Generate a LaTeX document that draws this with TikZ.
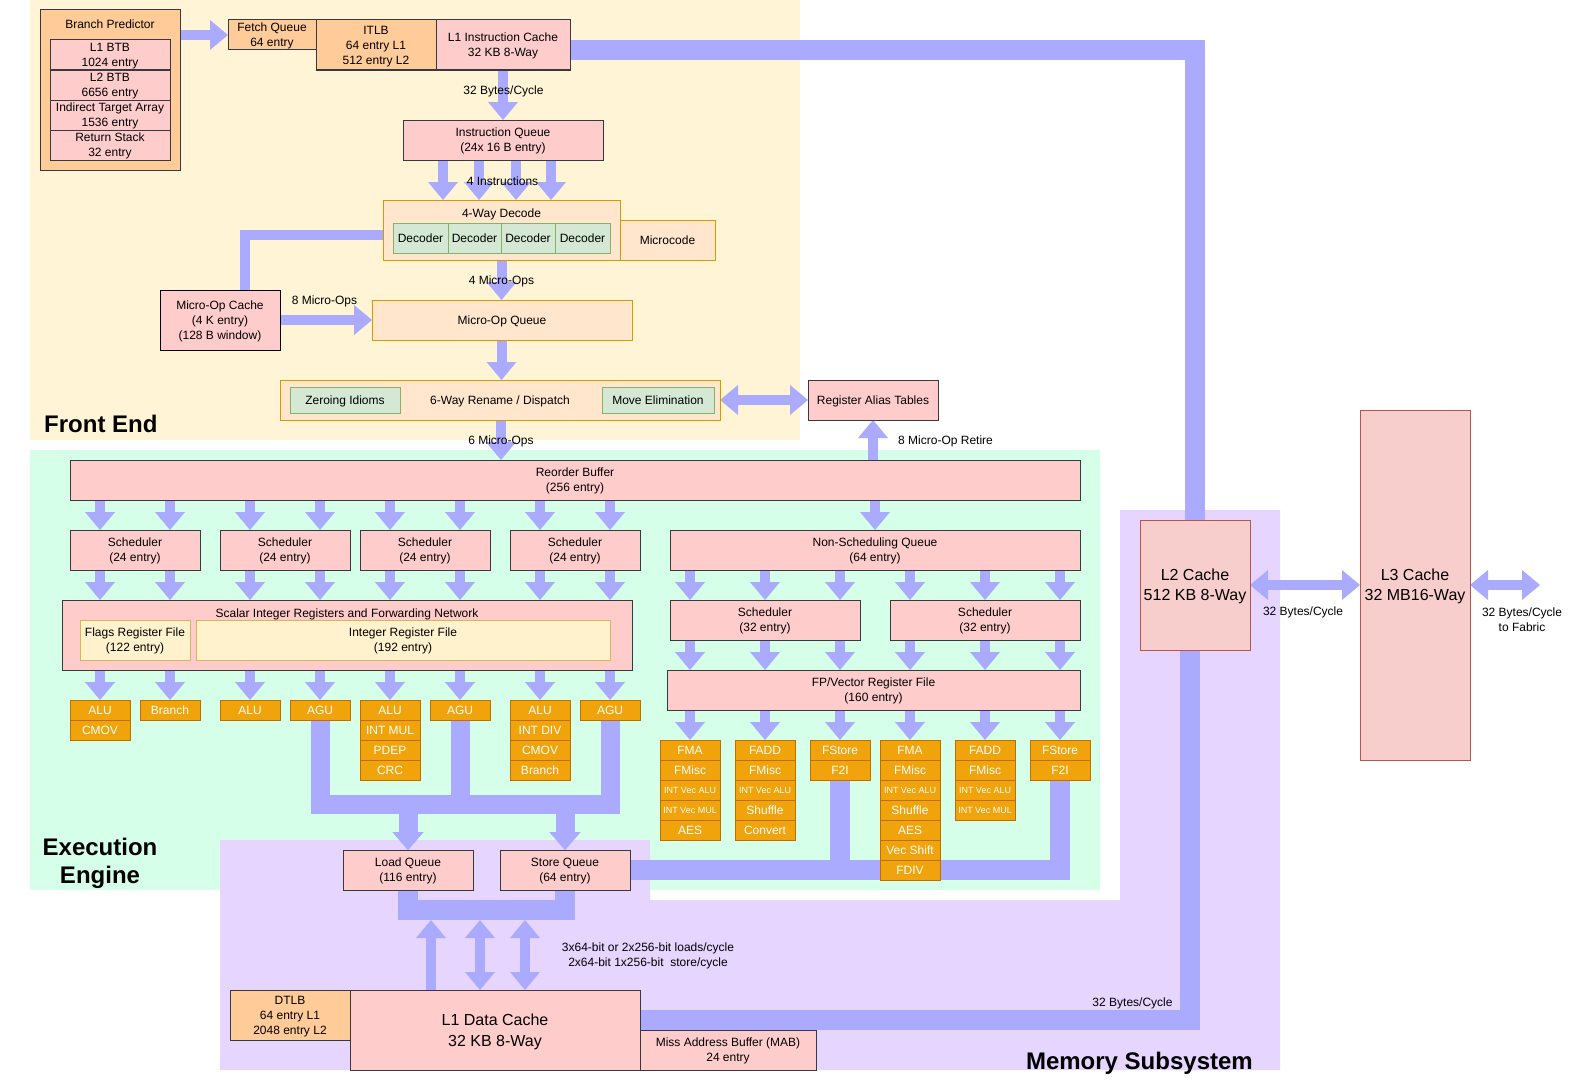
\documentclass[tikz,border=0pt]{standalone}
\usepackage{fontspec}
\setmainfont{Liberation Sans}
\usetikzlibrary{arrows.meta,calc}
\pgfdeclarelayer{regions}
\pgfdeclarelayer{links}
\pgfsetlayers{regions,links,main}
\definecolor{feY}{HTML}{FFF4D5}
\definecolor{eeG}{HTML}{D5FFE8}
\definecolor{msP}{HTML}{E5D5FF}
\definecolor{ablue}{HTML}{AAAAFF}
\definecolor{pinkc}{HTML}{FFCCCC}
\definecolor{peachc}{HTML}{FFCC99}
\definecolor{lpeach}{HTML}{FFE6CC}
\definecolor{dorange}{HTML}{D79B00}
\definecolor{dgreen}{HTML}{D5E8D4}
\definecolor{gstr}{HTML}{82B366}
\definecolor{lyel}{HTML}{FFF2CC}
\definecolor{ystr}{HTML}{D6B656}
\definecolor{unitF}{HTML}{F0A30A}
\definecolor{ustr}{HTML}{BD7000}
\definecolor{rpink}{HTML}{F8CECC}
\definecolor{rstr}{HTML}{B85450}
\definecolor{gstroke}{HTML}{36393D}
\tikzset{
 box/.style={draw=gstroke, fill=pinkc, line width=1pt, inner sep=0pt, outer sep=0pt, align=center, text depth=0pt, font=\fontsize{12}{15}\selectfont},
 pbox/.style={fill=lpeach, draw=dorange},
 gbox/.style={fill=dgreen, draw=gstr},
 ybox/.style={fill=lyel, draw=ystr},
 ubox/.style={fill=unitF, draw=ustr, text=white},
 sbox/.style={ubox, font=\fontsize{9}{11}\selectfont},
 rbox/.style={fill=rpink, draw=rstr, font=\fontsize{16}{20}\selectfont},
 lab/.style={font=\fontsize{12}{15}\selectfont, inner sep=0pt, align=center, text depth=0pt},
 reglab/.style={font=\fontsize{24}{28}\selectfont\bfseries, inner sep=0pt, align=center, text depth=0pt},
 farrow/.style={draw=ablue, line width=10pt, -{Triangle[width=30pt,length=18pt,line width=0pt]}},
 darrow/.style={draw=ablue, line width=10pt, {Triangle[width=30pt,length=18pt,line width=0pt]}-{Triangle[width=30pt,length=18pt,line width=0pt]}},
 aguarrow/.style={draw=ablue, line width=19pt, -{Triangle[width=31pt,length=18pt,line width=0pt]}},
 band/.style={draw=ablue, line width=20pt},
 thinband/.style={draw=ablue, line width=10pt},
}
\newcommand{\bx}[7][]{%
 \pgfmathsetmacro{\myW}{#5-#3}\pgfmathsetmacro{\myH}{#6-#4}%
 \pgfmathsetmacro{\myCX}{(#3+#5)/2}\pgfmathsetmacro{\myCY}{(#4+#6)/2}%
 \node[box,#1,minimum width=\myW pt,minimum height=\myH pt] (#2) at (\myCX,\myCY) {#7};}
\begin{document}
\begin{tikzpicture}[x=1pt,y=-1pt]
\useasboundingbox (0,0) rectangle (1576,1081);
\begin{pgfonlayer}{regions}
\fill[white] (0,0) rectangle (1576,1081);
\fill[feY] (30,0) rectangle (800,440);
\fill[eeG] (30,450) rectangle (1100,890);
\fill[msP] (220,840) -- (650,840) -- (650,900) -- (1120,900) -- (1120,510) -- (1280,510) -- (1280,1070) -- (220,1070) -- cycle;
\end{pgfonlayer}
% region labels
\node[reglab, anchor=west] (lfe) at (44,424) {Front End};
\node[reglab] (lee) at (100,861) {Execution\\Engine};
\node[reglab, anchor=east] (lms) at (1253,1061) {Memory Subsystem};
% ---------- Front end
\bx[fill=peachc]{bp}{40}{10}{180}{170}{}
\node[lab] (bpt) at (110,24) {Branch Predictor};
\bx{btb1}{50}{40}{170}{70}{L1 BTB\\1024 entry}
\bx{btb2}{50}{70}{170}{100}{L2 BTB\\6656 entry}
\bx{ita}{50}{100}{170}{130}{Indirect Target Array\\1536 entry}
\bx{rs}{50}{130}{170}{160}{Return Stack\\32 entry}
\bx[fill=peachc]{fq}{228}{20}{316}{50}{Fetch Queue\\64 entry}
\bx[fill=peachc]{itlb}{316}{20}{436}{70}{ITLB\\64 entry L1\\512 entry L2}
\bx{l1i}{436}{20}{570}{70}{L1 Instruction Cache\\32 KB 8-Way}
\bx{iq}{403}{120}{603}{160}{Instruction Queue\\(24x 16 B entry)}
\bx[pbox]{dec}{383}{200}{620}{260}{}
\node[lab] (dect) at (501.5,213) {4-Way Decode};
\bx[gbox]{d1}{393}{223}{448}{253}{Decoder}
\bx[gbox]{d2}{448}{223}{501}{253}{Decoder}
\bx[gbox]{d3}{501}{223}{555}{253}{Decoder}
\bx[gbox]{d4}{555}{223}{610}{253}{Decoder}
\bx[pbox]{mc}{620}{220}{715}{260}{Microcode}
\bx[draw=black]{moc}{160}{290}{280}{350}{Micro-Op Cache\\(4 K entry)\\(128 B window)}
\bx[pbox]{moq}{372}{300}{632}{340}{Micro-Op Queue}
\bx[pbox]{ren}{280}{380}{720}{420}{6-Way Rename / Dispatch}
\bx[gbox]{zi}{290}{387}{400}{413}{Zeroing Idioms}
\bx[gbox]{me}{602}{387}{714}{413}{Move Elimination}
\bx{rat}{808}{380}{938}{420}{Register Alias Tables}
% ---------- Execution
\bx{rob}{70}{460}{1080}{500}{Reorder Buffer\\(256 entry)}
\bx{s1}{70}{530}{200}{570}{Scheduler\\(24 entry)}
\bx{s2}{220}{530}{350}{570}{Scheduler\\(24 entry)}
\bx{s3}{360}{530}{490}{570}{Scheduler\\(24 entry)}
\bx{s4}{510}{530}{640}{570}{Scheduler\\(24 entry)}
\bx{sir}{62}{600}{632}{670}{}
\node[lab] (sirt) at (347,613) {Scalar Integer Registers and Forwarding Network};
\bx[ybox]{frf}{80}{620}{190}{660}{Flags Register File\\(122 entry)}
\bx[ybox]{irf}{196}{620}{610}{660}{Integer Register File\\(192 entry)}
\bx[ubox]{ua1}{70}{700}{130}{720}{ALU}
\bx[ubox]{ua2}{70}{720}{130}{740}{CMOV}
\bx[ubox]{ub1}{140}{700}{200}{720}{Branch}
\bx[ubox]{uc1}{220}{700}{280}{720}{ALU}
\bx[ubox]{ud1}{290}{700}{350}{720}{AGU}
\bx[ubox]{ue1}{360}{700}{420}{720}{ALU}
\bx[ubox]{ue2}{360}{720}{420}{740}{INT MUL}
\bx[ubox]{ue3}{360}{740}{420}{760}{PDEP}
\bx[ubox]{ue4}{360}{760}{420}{780}{CRC}
\bx[ubox]{uf1}{430}{700}{490}{720}{AGU}
\bx[ubox]{ug1}{510}{700}{570}{720}{ALU}
\bx[ubox]{ug2}{510}{720}{570}{740}{INT DIV}
\bx[ubox]{ug3}{510}{740}{570}{760}{CMOV}
\bx[ubox]{ug4}{510}{760}{570}{780}{Branch}
\bx[ubox]{uh1}{580}{700}{640}{720}{AGU}
\bx{nsq}{670}{530}{1080}{570}{Non-Scheduling Queue\\(64 entry)}
\bx{fs1}{670}{600}{860}{640}{Scheduler\\(32 entry)}
\bx{fs2}{890}{600}{1080}{640}{Scheduler\\(32 entry)}
\bx{fprf}{667}{670}{1080}{710}{FP/Vector Register File\\(160 entry)}
\bx[ubox]{v1a}{660}{740}{720}{760}{FMA}
\bx[ubox]{v1b}{660}{760}{720}{780}{FMisc}
\bx[sbox]{v1c}{660}{780}{720}{800}{INT Vec ALU}
\bx[sbox]{v1d}{660}{800}{720}{820}{INT Vec MUL}
\bx[ubox]{v1e}{660}{820}{720}{840}{AES}
\bx[ubox]{v2a}{735}{740}{795}{760}{FADD}
\bx[ubox]{v2b}{735}{760}{795}{780}{FMisc}
\bx[sbox]{v2c}{735}{780}{795}{800}{INT Vec ALU}
\bx[ubox]{v2d}{735}{800}{795}{820}{Shuffle}
\bx[ubox]{v2e}{735}{820}{795}{840}{Convert}
\bx[ubox]{v3a}{810}{740}{870}{760}{FStore}
\bx[ubox]{v3b}{810}{760}{870}{780}{F2I}
\bx[ubox]{v4a}{880}{740}{940}{760}{FMA}
\bx[ubox]{v4b}{880}{760}{940}{780}{FMisc}
\bx[sbox]{v4c}{880}{780}{940}{800}{INT Vec ALU}
\bx[ubox]{v4d}{880}{800}{940}{820}{Shuffle}
\bx[ubox]{v4e}{880}{820}{940}{840}{AES}
\bx[ubox]{v4f}{880}{840}{940}{860}{Vec Shift}
\bx[ubox]{v4g}{880}{860}{940}{880}{FDIV}
\bx[ubox]{v5a}{955}{740}{1015}{760}{FADD}
\bx[ubox]{v5b}{955}{760}{1015}{780}{FMisc}
\bx[sbox]{v5c}{955}{780}{1015}{800}{INT Vec ALU}
\bx[sbox]{v5d}{955}{800}{1015}{820}{INT Vec MUL}
\bx[ubox]{v6a}{1030}{740}{1090}{760}{FStore}
\bx[ubox]{v6b}{1030}{760}{1090}{780}{F2I}
% ---------- Memory
\bx{lq}{343}{850}{473}{890}{Load Queue\\(116 entry)}
\bx{sq}{500}{850}{630}{890}{Store Queue\\(64 entry)}
\bx[fill=peachc]{dtlb}{230}{990}{350}{1040}{DTLB\\64 entry L1\\2048 entry L2}
\bx[font=\fontsize{16}{21}\selectfont]{l1d}{350}{990}{640}{1070}{L1 Data Cache\\32 KB 8-Way}
\bx{mab}{640}{1030}{816}{1070}{Miss Address Buffer (MAB)\\24 entry}
\bx[rbox]{l2}{1140}{520}{1250}{650}{L2 Cache\\512 KB 8-Way}
\bx[rbox]{l3}{1360}{410}{1470}{760}{L3 Cache\\32 MB16-Way}
\coordinate (fab) at (1540,585);
\coordinate (busb) at (0,920);
% ---------- connectors
\begin{pgfonlayer}{links}
\draw[farrow] (bp.east |- fq.west) -- (fq.west);
\draw[band] (l1i.east |- 0,50) -| (l2.north -| 1195,0);
\draw[farrow] (l1i.south -| iq.north) -- (iq.north);
\foreach \xx in {443,479,516,551}{\draw[farrow] (iq.south -| \xx,0) -- (dec.north -| \xx,0);}
\draw[thinband] (dec.west |- 0,235) -| (moc.north -| 245,0);
\draw[farrow] (moc.east |- moq.west) -- (moq.west);
\draw[farrow] (dec.south -| 501.5,0) -- (moq.north -| 501.5,0);
\draw[farrow] (moq.south -| 501.5,0) -- (ren.north -| 501.5,0);
\draw[darrow] (ren.east) -- (rat.west);
\draw[farrow] (ren.south -| 501,0) -- (rob.north -| 501,0);
\draw[farrow] (rob.north -| rat.south) -- (rat.south);
\foreach \un/\sc in {ua1/s1,ub1/s1,uc1/s2,ud1/s2,ue1/s3,uf1/s3,ug1/s4,uh1/s4}{
  \draw[farrow] (rob.south -| \un.north) -- (\sc.north -| \un.north);
  \draw[farrow] (\sc.south -| \un.north) -- (sir.north -| \un.north);
  \draw[farrow] (sir.south -| \un.north) -- (\un.north);
}
\draw[farrow] (rob.south -| nsq.north) -- (nsq.north);
\foreach \un/\sc in {v1a/fs1,v2a/fs1,v3a/fs1,v4a/fs2,v5a/fs2,v6a/fs2}{
  \draw[farrow] (nsq.south -| \un.north) -- (\sc.north -| \un.north);
  \draw[farrow] (\sc.south -| \un.north) -- (fprf.north -| \un.north);
  \draw[farrow] (fprf.south -| \un.north) -- (\un.north);
}
\draw[aguarrow] (ud1.south) |- (lq.north |- 0,804) -- (lq.north);
\draw[aguarrow] (uf1.south) |- (lq.north |- 0,804) -- (lq.north);
\draw[aguarrow] (uf1.south) |- (sq.north |- 0,804) -- (sq.north);
\draw[aguarrow] (uh1.south) |- (sq.north |- 0,804) -- (sq.north);
\draw[band] (v3b.south) |- (sq.east);
\draw[band] (v6b.south) |- (sq.east);
\draw[band] (lq.south) |- (sq.south |- 0,910) -- (sq.south);
\draw[farrow] (l1d.north -| 431,0) -- (busb -| 431,0);
\draw[darrow] (l1d.north -| 480,0) -- (busb -| 480,0);
\draw[darrow] (l1d.north -| 525,0) -- (busb -| 525,0);
\draw[band] (l1d.east |- 0,1020) -| (l2.south -| 1190,0);
\draw[darrow] (l2.east) -- (l3.west);
\draw[darrow] (l3.east) -- (fab);
\end{pgfonlayer}
% ---------- labels
\node[lab] (t1) at (503.5,90.5) {32 Bytes/Cycle};
\node[lab] (t2) at (502.5,181) {4 Instructions};
\node[lab] (t3) at (324.5,300.5) {8 Micro-Ops};
\node[lab] (t4) at (501.5,280.5) {4 Micro-Ops};
\node[lab] (t5) at (501,440.5) {6 Micro-Ops};
\node[lab, anchor=west] (t6) at (898,440.5) {8 Micro-Op Retire};
\node[lab] (t7) at (648,955) {3x64-bit or 2x256-bit loads/cycle\\2x64-bit 1x256-bit \ store/cycle};
\node[lab] (t8) at (1132.5,1002) {32 Bytes/Cycle};
\node[lab] (t9) at (1303,611) {32 Bytes/Cycle};
\node[lab] (t10) at (1522,620) {32 Bytes/Cycle\\to Fabric};
\end{tikzpicture}
\end{document}
